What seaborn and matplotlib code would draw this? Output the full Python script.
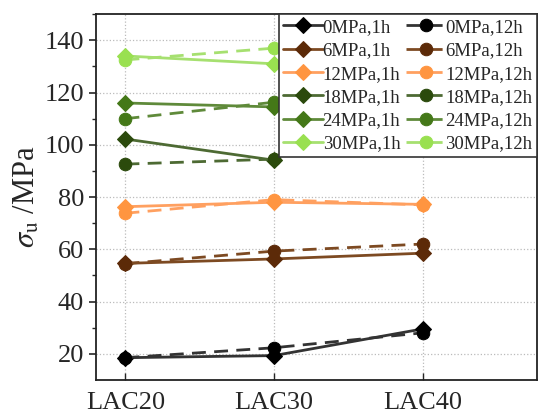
import matplotlib
matplotlib.use("Agg")
import matplotlib.pyplot as plt
import seaborn as sns
import pandas as pd

sns.set_theme(style="white")
plt.rcParams['font.family'] = ['Liberation Serif', 'DejaVu Serif']
plt.rcParams['mathtext.fontset'] = 'stix'

categories = ["LAC20", "LAC30", "LAC40"]
pressures = ["0MPa", "6MPa", "12MPa", "18MPa", "24MPa", "30MPa"]

v_0_1h = [18.5, 19.3, 29.5]
v_0_12h = [18.5, 22.3, 28.0]
v_6_1h = [54.6, 56.3, 58.5]
v_6_12h = [54.5, 59.3, 62.0]
v_12_1h = [76.3, 78.0, 77.2]
v_12_12h = [73.8, 79.0, 77.0]
v_18_1h = [102.2, 94.1]
v_18_12h = [92.6, 94.5]
v_24_1h = [116.0, 114.5]
v_24_12h = [110.0, 116.3]
v_30_1h = [134.0, 131.0]
v_30_12h = [132.5, 137.0]

series_1h = [v_0_1h, v_6_1h, v_12_1h, v_18_1h, v_24_1h, v_30_1h]
series_12h = [v_0_12h, v_6_12h, v_12_12h, v_18_12h, v_24_12h, v_30_12h]

marker_colors = ["#000000", "#5c2a08", "#ff9540", "#2b4a0c", "#447818", "#99e050"]
line_colors = ["#333333", "#7d4a22", "#ffa060", "#4d6a33", "#5f8a3a", "#a6e070"]

fig = plt.figure(figsize=(5.38, 4.17), dpi=100)
ax = fig.add_axes([0.178, 0.089, 0.82, 0.877])

xpos = {c: i for i, c in enumerate(categories)}
for i, p in enumerate(pressures):
    for vals, tag, mk, ls, ms in [(series_1h[i], "1h", "D", "-", 8),
                                  (series_12h[i], "12h", "o", (0, (5, 3)), 9)]:
        df = pd.DataFrame({"x": [xpos[c] for c in categories[:len(vals)]], "y": vals})
        sns.lineplot(data=df, x="x", y="y", ax=ax, color=line_colors[i], lw=2,
                     linestyle=ls, marker=mk, markersize=ms,
                     markerfacecolor=marker_colors[i], markeredgecolor=marker_colors[i],
                     label=f"{p},{tag}", legend=False)

h, l = ax.get_legend_handles_labels()
order_h = [h[2 * i] for i in range(6)] + [h[2 * i + 1] for i in range(6)]
order_l = [l[2 * i] for i in range(6)] + [l[2 * i + 1] for i in range(6)]
leg = ax.legend(order_h, order_l, ncol=2, loc="upper right", bbox_to_anchor=(1.0, 1.0),
                borderaxespad=0, fontsize=13.5, frameon=True, fancybox=False,
                framealpha=1, handlelength=2.1, handletextpad=0.0, columnspacing=0.3,
                labelspacing=0.33, borderpad=0.25)
leg.get_frame().set_edgecolor("#333333")
leg.get_frame().set_linewidth(1.2)

ax.set_xlim(-0.2, 2.77)
ax.set_ylim(10, 150)
ax.set_xticks(range(len(categories)))
ax.set_xticklabels(categories, fontsize=19)
ax.set_yticks([20, 40, 60, 80, 100, 120, 140])
ax.set_yticks([30, 50, 70, 90, 110, 130, 150], minor=True)
ax.tick_params(axis="y", which="major", labelsize=19, direction="out", length=5, width=1.2, left=True)
ax.tick_params(axis="y", which="minor", direction="out", length=3, width=1, left=True)
ax.tick_params(axis="x", which="major", direction="in", length=5, width=1, bottom=True, pad=9)
ax.set_xlabel("")
ax.set_ylabel(r"$\sigma_{\rm u}$ /MPa", fontsize=22, labelpad=2)
ax.grid(True, linestyle=":", color="#bbbbbb", linewidth=0.9)
for s in ax.spines.values():
    s.set_color("#222222")
    s.set_linewidth(1.3)

fig.savefig("out.png", dpi=100)
